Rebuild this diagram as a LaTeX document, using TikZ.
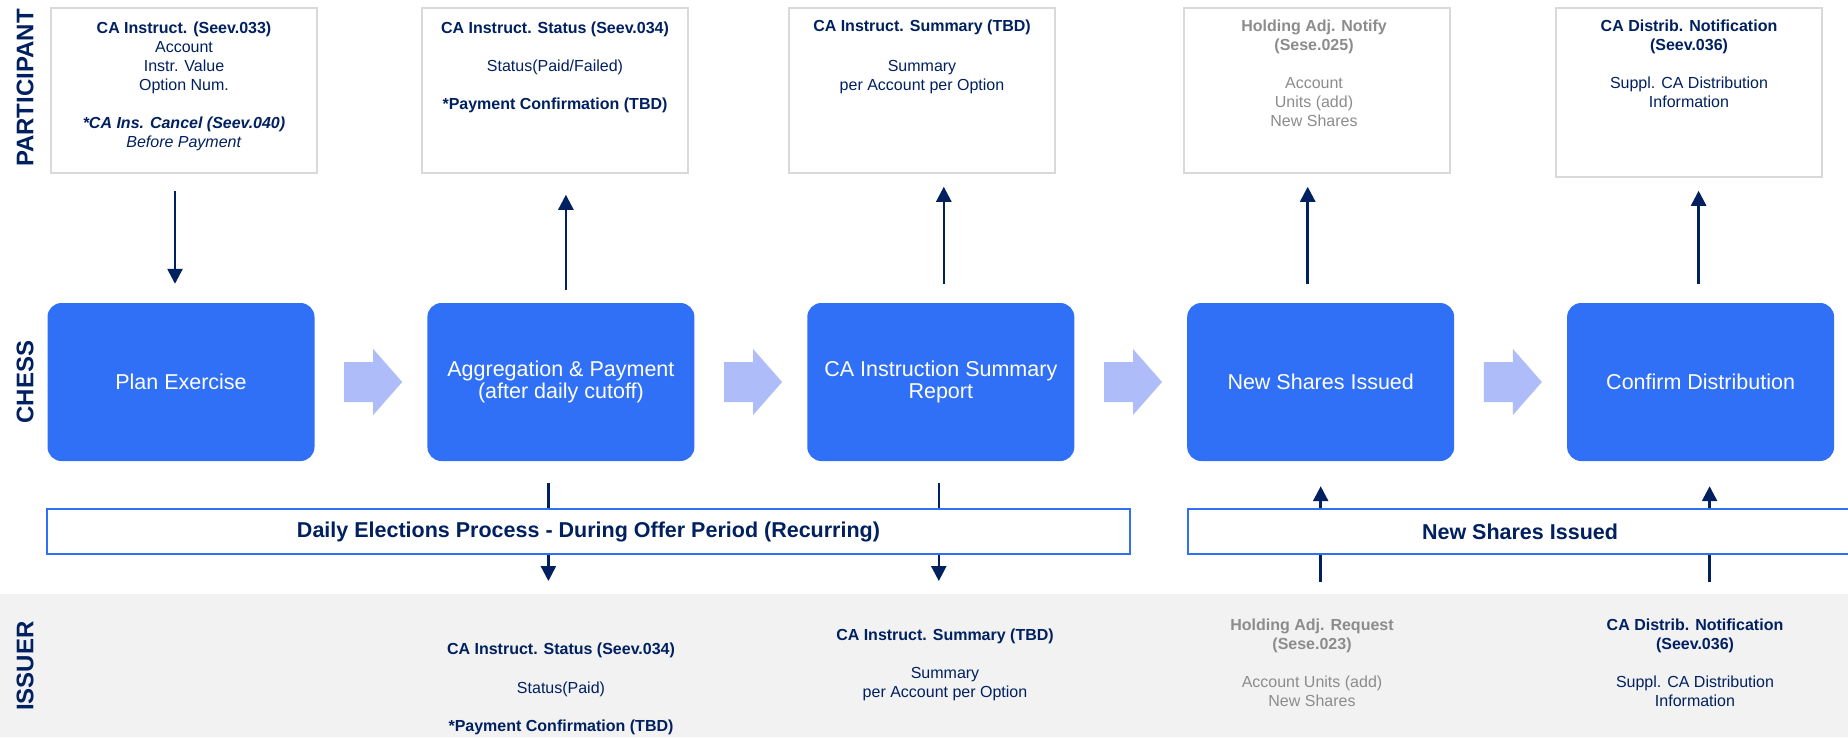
\documentclass[tikz,border=0pt]{standalone}
\usepackage{fontspec}
\setmainfont{Liberation Sans}
\usetikzlibrary{positioning, arrows.meta}

\definecolor{navy}{RGB}{0,32,96}
\definecolor{chessblue}{RGB}{48,112,246}
\definecolor{stepblue}{RGB}{174,188,250}
\definecolor{boxgray}{RGB}{217,217,217}
\definecolor{bandgray}{RGB}{242,242,242}
\definecolor{txtgray}{RGB}{140,140,140}

\begin{document}
\begin{tikzpicture}[x=1pt, y=-1pt,
    msgbox/.style={draw=boxgray, line width=1.5pt, fill=white, minimum width=266pt, minimum height=165pt, inner sep=0pt},
    msgtext/.style={anchor=north, align=center, inner sep=0pt, text=navy, font=\fontsize{16}{19}\selectfont},
    chessbox/.style={fill=chessblue, rounded corners=14pt, minimum width=267pt, minimum height=158pt, align=center, text=white, font=\fontsize{21.5}{21.5}\selectfont},
    banner/.style={draw=chessblue, line width=2.2pt, fill=white, minimum height=45pt, text=navy, font=\bfseries\fontsize{21.5}{24}\selectfont},
    lane/.style={rotate=90, text=navy, font=\bfseries\fontsize{24}{24}\selectfont},
    msg/.style={navy, line width=2.5pt, -{Triangle[width=15pt,length=15pt]}},
    stepshape/.style={fill=stepblue}
  ]
      \useasboundingbox (0,0) rectangle (1848,737);
      \fill[bandgray] (0,594) rectangle (1848,737);

      % lanes
      \node[lane] (lanepart) at (25,88) {PARTICIPANT};
      \node[lane] (lanechess) at (25,382) {CHESS};
      \node[lane] (laneissuer) at (25,666) {ISSUER};

      % participant messages
      \node[msgbox] (part1) at (184,90.5) {};
      \node[msgbox] (part2) at (555,90.5) {};
      \node[msgbox] (part3) at (922,90.5) {};
      \node[msgbox] (part4) at (1317,90.5) {};
      \node[msgbox, minimum height=169pt] (part5) at (1689,92.5) {};

      \node[msgtext] (part1txt) at (184,22) {\textbf{CA Instruct. (Seev.033)}\\Account\\Instr. Value\\Option Num.\\[19pt]\textbf{\textit{*CA Ins. Cancel (Seev.040)}}\\\textit{Before Payment}};
      \node[msgtext] (part2txt) at (555,22) {\textbf{CA Instruct. Status (Seev.034)}\\[19pt]Status(Paid/Failed)\\[19pt]\textbf{*Payment Confirmation (TBD)}};
      \node[msgtext] (part3txt) at (922,20) {\textbf{CA Instruct. Summary (TBD)}\\[21pt]Summary\\per Account per Option};
      \node[msgtext, text=txtgray] (part4txt) at (1314,20) {\textbf{Holding Adj. Notify}\\\textbf{(Sese.025)}\\[19pt]Account\\Units (add)\\New Shares};
      \node[msgtext] (part5txt) at (1689,20) {\textbf{CA Distrib. Notification}\\\textbf{(Seev.036)}\\[19pt]Suppl. CA Distribution\\Information};

      % chess steps
      \node[chessbox] (chess1) at (181,382) {Plan Exercise};
      \node[chessbox, right=112.5pt of chess1] (chess2) {Aggregation \& Payment\\(after daily cutoff)};
      \node[chessbox, right=112.5pt of chess2] (chess3) {CA Instruction Summary\\Report};
      \node[chessbox, right=112.5pt of chess3] (chess4) {New Shares Issued};
      \node[chessbox, right=112.5pt of chess4] (chess5) {Confirm Distribution};

      \foreach \a/\b in {1/2,2/3,3/4,4/5}{
        \path (chess\a.east) -- (chess\b.west) coordinate[pos=0.52] (gap\a);
        \fill[stepshape, shift={(gap\a)}] (-29,-20) -- (0,-20) -- (0,-33) -- (29,0) -- (0,33) -- (0,20) -- (-29,20) -- cycle;
      }

      % participant <-> chess
      \foreach \i/\dx in {1/-6,2/5,3/3,4/-13,5/-2}
        \coordinate (top\i) at ([xshift=\dx pt]chess\i.north);
      \draw[msg, shorten <=17pt, shorten >=19pt] (part1.south -| top1) -- (top1);
      \draw[msg, shorten <=13pt, shorten >=21pt] (top2) -- (part2.south -| top2);
      \foreach \i in {3,4,5}
        \draw[msg, shorten <=19pt, shorten >=13pt] (top\i) -- (part\i.south -| top\i);

      % chess <-> issuer
      \coordinate (band) at (0,594);
      \foreach \i/\dx in {2/-12.5,3/-2,4/0,5/9}
        \coordinate (bot\i) at ([xshift=\dx pt]chess\i.south);
      \draw[msg, shorten <=22pt, shorten >=13pt] (bot2) -- (bot2 |- band);
      \draw[msg, shorten <=22pt, shorten >=13pt] (bot3) -- (bot3 |- band);
      \draw[msg, shorten <=12pt, shorten >=25pt] (bot4 |- band) -- (bot4);
      \draw[msg, shorten <=12pt, shorten >=25pt] (bot5 |- band) -- (bot5);

      \node[banner, minimum width=1083pt] (daily) at (588.5,531.5) {Daily Elections Process - During Offer Period (Recurring)};
      \node[banner, minimum width=664pt] (newshares) at (1520,531.5) {New Shares Issued};

      % issuer messages
      \node[msgtext] (iss2) at (561,643) {\textbf{CA Instruct. Status (Seev.034)}\\[20pt]Status(Paid)\\[19pt]\textbf{*Payment Confirmation (TBD)}};
      \node[msgtext] (iss3) at (945,629) {\textbf{CA Instruct. Summary (TBD)}\\[19pt]Summary\\per Account per Option};
      \node[msgtext, text=txtgray] (iss4) at (1312,619) {\textbf{Holding Adj. Request}\\\textbf{(Sese.023)}\\[19pt]Account Units (add)\\New Shares};
      \node[msgtext] (iss5) at (1695,619) {\textbf{CA Distrib. Notification}\\\textbf{(Seev.036)}\\[19pt]Suppl. CA Distribution\\Information};

    \end{tikzpicture}
\end{document}
